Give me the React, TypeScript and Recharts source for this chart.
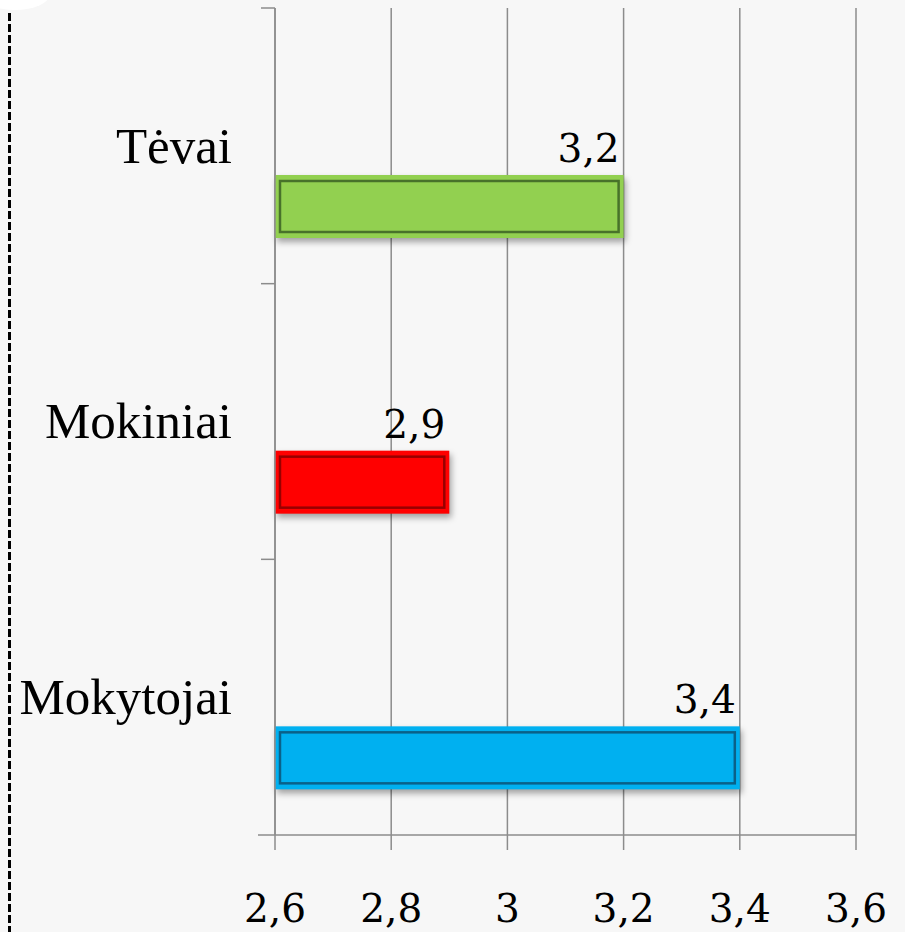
import React from 'react';
import { BarChart, Bar, XAxis, YAxis, CartesianGrid, LabelList } from 'recharts';

const categories = ['Tėvai', 'Mokiniai', 'Mokytojai'];
const scores = [3.2, 2.9, 3.4];
const barColors = ['#92d050', '#ff0000', '#00b0f0'];
const borderColors = ['#48722a', '#980000', '#0a6189'];
const xTicks = [2.6, 2.8, 3, 3.2, 3.4, 3.6];

const data = categories.map((name, i) => ({ name, score: scores[i] }));

const axisGray = '#8c8c8c';
const serif = '"Liberation Serif", "Times New Roman", serif';
const numFont = '"DejaVu Serif", Georgia, serif';
const comma = (v: number | string) => String(v).replace('.', ',');

const BevelBar = (props: any) => {
  const { x, y, width, height } = props;
  if (!width || width <= 0) return null;
  let i = props.index;
  if (i === undefined) i = categories.indexOf(props.payload?.name);
  return (
    <g style={{ filter: 'drop-shadow(2px 4px 3px rgba(0,0,0,0.35))' }}>
      <rect x={x} y={y} width={width} height={height} fill={barColors[i]} />
      <rect
        x={x + 5}
        y={y + 6}
        width={width - 10}
        height={height - 12}
        fill={barColors[i]}
        stroke={borderColors[i]}
        strokeWidth={2.5}
      />
    </g>
  );
};

const CategoryTick = (props: any) => {
  const { x, y, payload, index } = props;
  const half = payload.offset ?? 0;
  const last = index === categories.length - 1;
  return (
    <g>
      <line x1={x - 14} x2={x} y1={y - half} y2={y - half} stroke={axisGray} strokeWidth={1.5} />
      {last && <line x1={x - 17} x2={x} y1={y + half} y2={y + half} stroke={axisGray} strokeWidth={1.5} />}
      <text x={x - 43} y={y} dy="0.33em" textAnchor="end" fontFamily={serif} fontSize={51} fill="#000">
        {payload.value}
      </text>
    </g>
  );
};

const ValueLabel = (props: any) => {
  const { x, y, width, value } = props;
  if (value === undefined || value === null) return null;
  return (
    <text x={x + width - 4} y={y - 13} textAnchor="end" fontFamily={numFont} fontSize={39} fill="#000">
      {comma(value)}
    </text>
  );
};

export default function App() {
  return (
    <div style={{ position: 'absolute', left: 0, top: 0, width: 905, height: 932, background: '#f7f7f7', overflow: 'hidden' }}>
      <div style={{ position: 'absolute', left: -20, top: -22, width: 70, height: 32, borderRadius: '50%', background: '#ffffff' }} />
      <svg width={905} height={932} style={{ position: 'absolute', left: 0, top: 0 }}>
        <line x1={9.5} x2={9.5} y1={13} y2={932} stroke="#000" strokeWidth={3} strokeDasharray="8 3" />
      </svg>
      <div style={{ position: 'absolute', left: 0, top: 0 }}>
        <BarChart
          width={905}
          height={932}
          data={data}
          layout="vertical"
          margin={{ top: 8, right: 49, left: 0, bottom: 0 }}
          barSize={63}
          barGap={58}
        >
          <CartesianGrid horizontal={false} stroke={axisGray} strokeWidth={1.5} />
          <XAxis
            type="number"
            domain={[2.6, 3.6]}
            ticks={xTicks}
            tickFormatter={comma}
            height={97}
            tickSize={15}
            tickMargin={44}
            stroke={axisGray}
            axisLine={{ stroke: axisGray, strokeWidth: 1.5 }}
            tickLine={{ stroke: axisGray, strokeWidth: 1.5 }}
            tick={{ fill: '#000', fontSize: 39, fontFamily: numFont }}
          />
          <YAxis
            type="category"
            dataKey="name"
            width={275}
            tickSize={0}
            tickMargin={0}
            tickLine={false}
            axisLine={{ stroke: axisGray, strokeWidth: 1.5 }}
            tick={<CategoryTick />}
            interval={0}
          />
          <Bar dataKey="spacer" isAnimationActive={false} />
          <Bar dataKey="score" shape={<BevelBar />} isAnimationActive={false}>
            <LabelList dataKey="score" content={<ValueLabel />} />
          </Bar>
        </BarChart>
      </div>
    </div>
  );
}
